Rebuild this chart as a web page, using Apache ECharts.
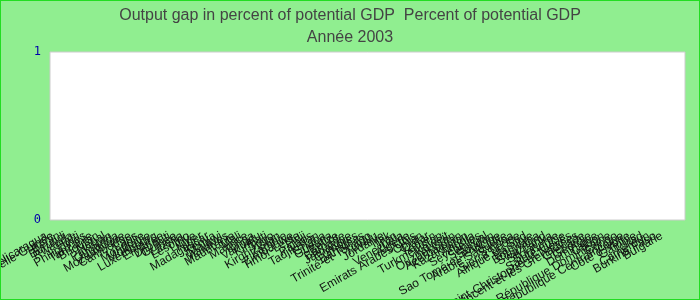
<!DOCTYPE html>
<html>
<head>
<meta charset="utf-8">
<script src="https://cdn.jsdelivr.net/npm/echarts@6/dist/echarts.min.js"></script>
<style>
html,body{margin:0;padding:0;background:#90EE90;}
#chart{width:698px;height:298px;border:1px solid #22dd22;}
</style>
</head>
<body>
<div id="chart"></div>
<script>
const titleText = "Output gap in percent of potential GDP  Percent of potential GDP";
const subtitleText = "Année 2003";
const categories = [
  "Nicaragua","Papouasie-Nouvelle-Guinée","Bénin","Burundi","Rwanda","Haïti","Philippines","Tanzanie",
  "Bhoutan","Népal","Pakistan","Ouganda","Mozambique","Cambodge","Laos","Mongolie","Moldavie",
  "Luxembourg","Érythrée","Djibouti","Guinée","Liberia","Lesotho","Libye","Niger","Madagascar",
  "Kenya","Malawi","Maldives","Mauritanie","Mali","Maurice","Tonga","Vanuatu","Kiribati","Togo",
  "Kirghizistan","Zambie","Zimbabwe","Timor-Leste","Fidji","Palaos","Tadjikistan","Ghana","Guyana",
  "Belize","Barbade","Jamaïque","Comores","Bahamas","Trinité-et-Tobago","Tuvalu","Jordanie","Irak",
  "Iran","Venezuela","Algérie","Emirats Arabes Unis","Oman","Qatar","Yémen","Turkménistan","Koweït",
  "Ouzbékistan","Azerbaïdjan","Kazakhstan","Angola","Seychelles","Sénégal","Soudan",
  "Sao Tomé-et-Principe","Arabie Saoudite","Samoa","Sierra Leone","Afrique du Sud","Namibie",
  "Botswana","Swaziland","Sri Lanka","Suriname","Sainte-Lucie","Saint-Christophe-et-Niévès",
  "Saint-Vincent-et-les Grenadines","Grenade","Géorgie","Dominique","Gabon","République Dominicaine",
  "Congo","République Centrafricaine","Côte d'Ivoire","Gambie","Tchad","Cameroun","Burkina Faso","Bulgarie"
];
// No values are shown for 2003: every value is missing
const values = categories.map(() => null);
const yTicks = [0, 1];

const chart = echarts.init(document.getElementById('chart'));
chart.setOption({
  backgroundColor: '#90EE90',
  animation: false,
  title: {
    text: titleText,
    subtext: subtitleText,
    left: 'center',
    top: 2,
    itemGap: 6,
    textStyle: {fontFamily: 'Liberation Sans', fontSize: 16, fontWeight: 'normal', color: '#444'},
    subtextStyle: {fontFamily: 'Liberation Sans', fontSize: 16, color: '#444'}
  },
  grid: {
    left: 49, right: 14, top: 51, bottom: 79,
    outerBoundsMode: 'none', containLabel: false,
    show: true, backgroundColor: '#ffffff', borderColor: '#cccccc', borderWidth: 1
  },
  xAxis: {
    type: 'category',
    data: categories,
    max: categories.length + 1,
    axisLine: {show: false},
    axisTick: {show: false},
    axisLabel: {
      interval: 0, rotate: 30, margin: 11, hideOverlap: false,
      padding: [0, 8, 0, 0],
      formatter: (v, i) => (i < categories.length ? categories[i] : ''),
      fontFamily: 'Liberation Sans', fontSize: 12, color: '#111'
    }
  },
  yAxis: {
    type: 'value',
    min: yTicks[0], max: yTicks[yTicks.length - 1], interval: 1,
    splitLine: {show: false},
    axisLine: {show: false},
    axisTick: {show: false},
    axisLabel: {fontFamily: 'DejaVu Sans Mono', fontSize: 12, color: '#0000aa', margin: 9}
  },
  series: [{type: 'bar', data: values, itemStyle: {color: '#4572A7'}}]
});
</script>
</body>
</html>
